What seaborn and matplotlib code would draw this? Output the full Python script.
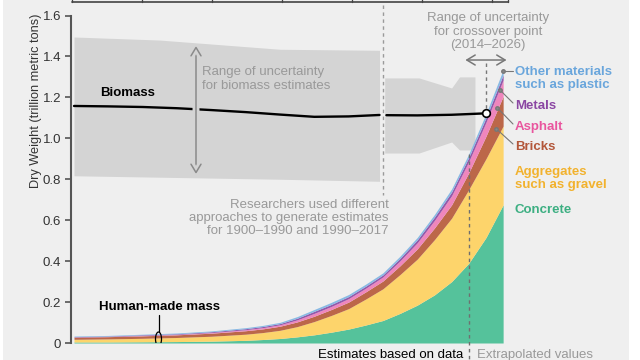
import numpy as np
import pandas as pd
import matplotlib
matplotlib.use("Agg")
import matplotlib.pyplot as plt
import matplotlib.patheffects as pe
from matplotlib.patches import Rectangle, Ellipse
from matplotlib.lines import Line2D
import seaborn as sns

# ---------------- data ----------------
years = [1900, 1910, 1920, 1930, 1940, 1950, 1955, 1960, 1965, 1970, 1975, 1980,
         1985, 1990, 1995, 2000, 2005, 2010, 2015, 2020, 2025]
concrete   = [0.005, 0.005, 0.006, 0.007, 0.009, 0.013, 0.017, 0.022, 0.030, 0.040, 0.053, 0.068,
              0.088, 0.110, 0.145, 0.185, 0.235, 0.300, 0.390, 0.515, 0.675]
aggregates = [0.013, 0.015, 0.017, 0.020, 0.024, 0.030, 0.034, 0.040, 0.050, 0.065, 0.082, 0.100,
              0.127, 0.155, 0.190, 0.225, 0.270, 0.310, 0.360, 0.385, 0.385]
bricks     = [0.010, 0.011, 0.012, 0.013, 0.015, 0.017, 0.018, 0.020, 0.023, 0.026, 0.029, 0.032,
              0.035, 0.038, 0.043, 0.050, 0.057, 0.065, 0.082, 0.110, 0.145]
asphalt    = [0.001, 0.001, 0.002, 0.002, 0.003, 0.005, 0.006, 0.007, 0.010, 0.014, 0.015, 0.017,
              0.018, 0.020, 0.024, 0.030, 0.037, 0.045, 0.055, 0.068, 0.080]
metals     = [0.002, 0.002, 0.003, 0.003, 0.004, 0.005, 0.0055, 0.006, 0.008, 0.010, 0.010, 0.010,
              0.010, 0.010, 0.012, 0.014, 0.016, 0.018, 0.020, 0.022, 0.025]
other      = [0.003, 0.003, 0.003, 0.004, 0.004, 0.005, 0.0055, 0.006, 0.008, 0.009, 0.010, 0.010,
              0.010, 0.010, 0.011, 0.012, 0.013, 0.015, 0.017, 0.020, 0.025]

layer_names = ["Concrete", "Aggregates", "Bricks", "Asphalt", "Metals", "Other"]
layer_colors = ["#55c29b", "#fdd46b", "#bc6749", "#ef86bd", "#9357aa", "#88b9e4"]

# biomass (two estimation approaches)
bio_years_a = [1900, 1910, 1920, 1930, 1940, 1950, 1960, 1970, 1980, 1989]
bio_vals_a  = [1.158, 1.156, 1.153, 1.147, 1.138, 1.128, 1.116, 1.105, 1.107, 1.114]
bio_years_b = [1991, 2000, 2010, 2020]
bio_vals_b  = [1.113, 1.112, 1.115, 1.122]

# uncertainty ranges
band_a_years = [1900, 1925, 1960, 1989]
band_a_hi    = [1.495, 1.480, 1.435, 1.430]
band_a_lo    = [0.817, 0.810, 0.800, 0.790]
band_b_years = [1990.5, 2000.5, 2010, 2012.3, 2016.8]
band_b_hi    = [1.295, 1.295, 1.246, 1.300, 1.300]
band_b_lo    = [0.928, 0.928, 0.982, 0.943, 0.943]

crossover_year, crossover_val = 2020, 1.122
crossover_range = (2014, 2026)
split_year = 1990
extrap_year = 2015

yticks = [0, 0.2, 0.4, 0.6, 0.8, 1.0, 1.2, 1.4, 1.6]
ytick_labels = ["0", "0.2", "0.4", "0.6", "0.8", "1.0", "1.2", "1.4", "1.6"]

# ---------------- style ----------------
sns.set_theme(style="white")
plt.rcParams["font.family"] = ["Liberation Sans", "DejaVu Sans"]

W, H = 640, 360
fig = plt.figure(figsize=(6.4, 3.6), dpi=100, facecolor="white")
fig.patches.append(Rectangle((3 / W, 0), (629 - 3) / W, 1, transform=fig.transFigure,
                             facecolor="#efefef", edgecolor="none", zorder=-10))

# pixel mapping helpers (for annotation placement)
X0PX, PXYR = 74.0, 3.433
Y0PX, PXU = 343.0, 204.7
def px2x(x): return 1900 + (x - X0PX) / PXYR
def px2y(y): return (Y0PX - y) / PXU

ax_left, ax_right = 71, 620
ax = fig.add_axes([ax_left / W, (H - 343) / H, (ax_right - ax_left) / W, 327.5 / H])
ax.set_facecolor("none")
ax.set_xlim(px2x(ax_left), px2x(ax_right))
ax.set_ylim(0, 1.6)

BAND = "#d4d4d4"
ax.fill_between(band_a_years, band_a_lo, band_a_hi, color=BAND, lw=0, zorder=1)
ax.fill_between(band_b_years, band_b_lo, band_b_hi, color=BAND, lw=0, zorder=1)

# stacked human-made mass
df = pd.DataFrame({"year": years, "Concrete": concrete, "Aggregates": aggregates,
                   "Bricks": bricks, "Asphalt": asphalt, "Metals": metals, "Other": other})
ax.stackplot(df["year"], *[df[n] for n in layer_names], colors=layer_colors, lw=0, zorder=3)

# biomass line
bio = pd.DataFrame({"year": bio_years_a + bio_years_b,
                    "val": bio_vals_a + bio_vals_b,
                    "part": ["a"] * len(bio_years_a) + ["b"] * len(bio_years_b)})
sns.lineplot(data=bio, x="year", y="val", units="part", estimator=None, color="black",
             lw=1.7, ax=ax, zorder=4, legend=False)
ax.plot([crossover_year], [crossover_val], marker="o", ms=5.5, mfc="white", mec="black",
        mew=1.2, zorder=6)

GRAY = "#999999"
ARROW = "<->,head_length=0.5,head_width=0.3"
# biomass uncertainty arrow
arr = ax.annotate("", xy=(px2x(196), px2y(46)), xytext=(px2x(196), px2y(174)),
                  arrowprops=dict(arrowstyle=ARROW, color="#8a8a8a", lw=1.1,
                                  shrinkA=0, shrinkB=0), zorder=5)
arr.arrow_patch.set_path_effects([pe.Stroke(linewidth=5, foreground=BAND), pe.Normal()])
ax.text(px2x(202), px2y(79), "Range of uncertainty\nfor biomass estimates", color=GRAY,
        fontsize=9.5, ha="left", va="center", linespacing=1.15, zorder=5)

# 1990 split line
ax.plot([split_year, split_year], [px2y(5), px2y(195)], color="#9a9a9a", lw=1,
        ls=(0, (2.5, 2.5)), clip_on=False, zorder=5)
ax.text(px2x(389), px2y(218), "Researchers used different\napproaches to generate estimates\nfor 1900\u20131990 and 1990\u20132017",
        color=GRAY, fontsize=9.5, ha="right", va="center", linespacing=1.15, zorder=5)

# extrapolation line
total_2015 = df.loc[df["year"] == extrap_year, layer_names].sum(axis=1).iloc[0]
ax.plot([extrap_year, extrap_year], [total_2015, px2y(362)], color="#6f6f6f", lw=1,
        ls=(0, (2.5, 2.5)), clip_on=False, zorder=5)
ax.text(px2x(463), px2y(355), "Estimates based on data", color="black", fontsize=9.5,
        ha="right", va="center")
ax.text(px2x(477), px2y(355), "Extrapolated values", color=GRAY, fontsize=9.5,
        ha="left", va="center")

# crossover range
ax.annotate("", xy=(crossover_range[0], px2y(60)), xytext=(crossover_range[1], px2y(60)),
            arrowprops=dict(arrowstyle=ARROW, color="#777777", lw=1.1,
                            shrinkA=0, shrinkB=0), annotation_clip=False)
ax.plot([crossover_year, crossover_year], [px2y(63), crossover_val], color="#777777", lw=1,
        ls=(0, (2.5, 2.5)), zorder=5, clip_on=False)
ax.text(px2x(488), px2y(31.5), "Range of uncertainty\nfor crossover point\n(2014\u20132026)",
        color=GRAY, fontsize=9.5, ha="center", va="center", linespacing=1.15)

# labels
ax.text(px2x(128), px2y(93), "Biomass", fontsize=9.5, fontweight="bold", color="black",
        ha="center", va="center")
ax.text(px2x(160), px2y(307), "Human-made mass", fontsize=9.5, fontweight="bold",
        color="black", ha="center", va="center")
ax.plot([px2x(159), px2x(159)], [px2y(315), px2y(332)], color="black", lw=0.9)
ax.add_patch(Ellipse((px2x(158.5), px2y(339)), 6 / PXYR, 14 / PXU, fill=False,
                     ec="black", lw=0.9, zorder=6))

lab_x = px2x(515)
labels = [
    ("Other materials\nsuch as plastic", "#6aa6dc", 78.5, (503, 71), (513, 71)),
    ("Metals", "#8b46a3", 105.5, (500, 90), (513, 103)),
    ("Asphalt", "#e9559e", 126.5, (497.5, 108), (513, 124)),
    ("Bricks", "#b3573a", 146.5, (496.5, 129), (513, 144)),
    ("Aggregates\nsuch as gravel", "#f2b22e", 178.5, None, None),
    ("Concrete", "#3daf82", 210, None, None),
]
for txt, col, ypx, p0, p1 in labels:
    ax.text(lab_x, px2y(ypx), txt, color=col, fontsize=9.5, fontweight="bold",
            ha="left", va="center", linespacing=1.12, clip_on=False)
    if p0 is not None:
        ax.plot([px2x(p0[0]), px2x(p1[0])], [px2y(p0[1]), px2y(p1[1])], color="#777777",
                lw=0.8, zorder=7, clip_on=False)
        ax.plot([px2x(p0[0])], [px2y(p0[1])], marker="o", ms=2.5, color="#888888",
                mec="#777777", zorder=7)

# axes styling
for s in ["top", "right", "bottom"]:
    ax.spines[s].set_visible(False)
ax.spines["left"].set_color("#555555")
ax.spines["left"].set_linewidth(1.5)
ax.set_xticks([])
ax.set_yticks(yticks)
ax.set_yticklabels(ytick_labels)
ax.tick_params(axis="y", length=4, width=1.2, color="#555555", labelsize=9.5,
               labelcolor="#333333", pad=3, left=True)
ax.set_ylabel("Dry Weight (trillion metric tons)", fontsize=9.2, color="#333333")
ax.yaxis.set_label_coords((42 - ax_left) / (ax_right - ax_left), 1 - (101 - 15.5) / 327.5)
ax.set_xlabel("")

# cropped frame edge at the very top
fig.add_artist(Line2D([72 / W, 508 / W], [1 - 1.5 / H] * 2, transform=fig.transFigure,
                      color="#444444", lw=1.2))
for tx in [72, 142, 212, 282, 352, 422, 492, 508]:
    fig.add_artist(Line2D([tx / W, tx / W], [1 - 1.5 / H, 1], transform=fig.transFigure,
                          color="#444444", lw=1.0))

fig.savefig("out.png", dpi=100, facecolor=fig.get_facecolor())
